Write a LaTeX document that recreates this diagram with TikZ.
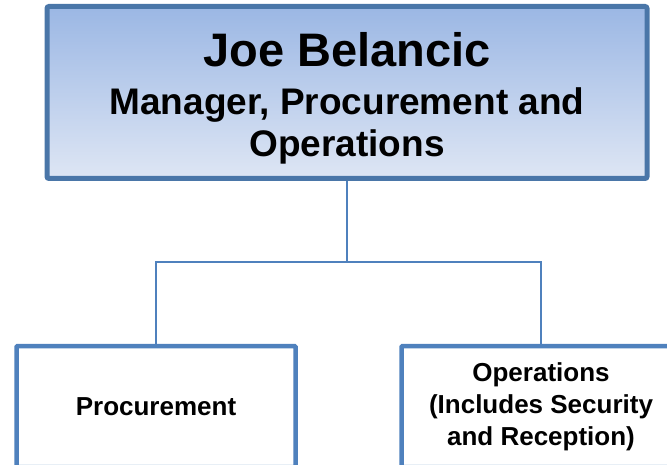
\documentclass[tikz,border=0pt]{standalone}
\usepackage{fontspec}
\setmainfont{Liberation Sans}
\usepackage{tikz}
\usetikzlibrary{positioning, calc}

\definecolor{headtop}{RGB}{155,183,228}
\definecolor{headbot}{RGB}{222,230,244}
\definecolor{headline}{RGB}{74,118,168}
\definecolor{boxline}{RGB}{79,129,189}

\begin{document}
\begin{tikzpicture}[
        x=1pt, y=-1pt,
        font=\bfseries,
        headbox/.style={draw=headline, line width=5pt, rounded corners=2pt,
            top color=headtop, bottom color=headbot,
            minimum width=600pt, minimum height=172pt, inner sep=0pt},
        unitbox/.style={draw=boxline, line width=4.5pt, fill=white, rounded corners=1pt,
            minimum width=279pt, minimum height=121pt, align=center, inner sep=0pt,
            font=\bfseries\fontsize{26}{32}\selectfont},
        link/.style={draw=boxline, line width=1.8pt}
    ]
    \useasboundingbox (0,0) rectangle (667,465);

    % Manager
    \node[headbox] (head) at (347,92.5) {};
    \node[align=center, inner sep=0pt, font=\bfseries\fontsize{37}{42}\selectfont] (headtext) at (347,98) {
        {\fontsize{47}{47}\selectfont Joe Belancic}\\[6pt]
        Manager, Procurement and\\
        Operations
    };

    % Branch point
    \coordinate (bus) at (347,262);

    % Units
    \node[unitbox] (proc) at (156,406.5) {Procurement};
    \node[unitbox] (ops) at (541,406.5) {Operations\\(Includes Security\\and Reception)};

    % Reporting lines
    \draw[link] (head.south) -- (bus);
    \draw[link] (proc.north) |- (bus) -| (ops.north);

\end{tikzpicture}
\end{document}
